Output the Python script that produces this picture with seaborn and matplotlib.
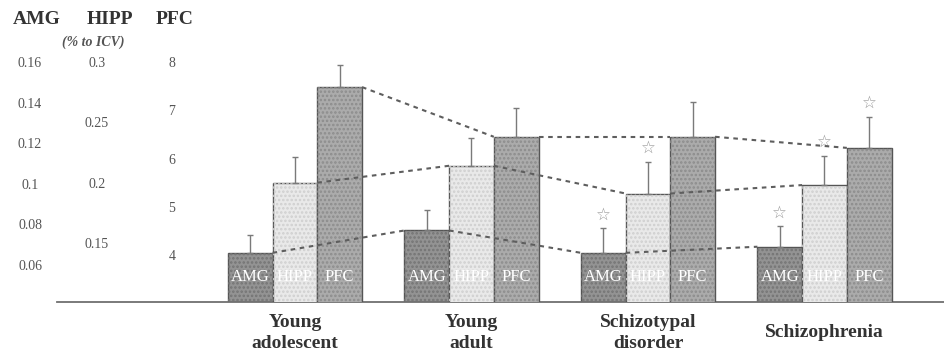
import matplotlib
matplotlib.use("Agg")
import matplotlib.pyplot as plt
import matplotlib.patches as mpatches
import seaborn as sns
import pandas as pd
import numpy as np

# ---------------- data ----------------
groups = ["Young\nadolescent", "Young\nadult", "Schizotypal\ndisorder", "Schizophrenia"]
regions = ["AMG", "HIPP", "PFC"]

amg_vals = [0.066, 0.077, 0.066, 0.069]
amg_sem = [0.009, 0.010, 0.012, 0.010]
hipp_vals = [0.200, 0.214, 0.191, 0.198]
hipp_sem = [0.021, 0.023, 0.026, 0.024]
pfc_vals = [7.48, 6.45, 6.45, 6.22]
pfc_sem = [0.46, 0.60, 0.72, 0.64]

amg_sig = [0, 0, 1, 1]
hipp_sig = [0, 0, 1, 1]
pfc_sig = [0, 0, 0, 1]

amg_ticks = [0.06, 0.08, 0.10, 0.12, 0.14, 0.16]
amg_ticklabels = ["0.06", "0.08", "0.1", "0.12", "0.14", "0.16"]
hipp_ticks = [0.15, 0.20, 0.25, 0.30]
hipp_ticklabels = ["0.15", "0.2", "0.25", "0.3"]
pfc_ticks = [4, 5, 6, 7, 8]
pfc_ticklabels = ["4", "5", "6", "7", "8"]

# ---------------- style ----------------
sns.set_theme(style="white")
plt.rcParams["font.family"] = ["Liberation Serif", "DejaVu Sans"]
plt.rcParams["hatch.linewidth"] = 1.2

colors = {"AMG": "#939393", "HIPP": "#e9e9e9", "PFC": "#ababab"}
speck = {"AMG": "#747474", "HIPP": "#cfcfcf", "PFC": "#8c8c8c"}
edge = "#555555"
line_col = "#5e5e5e"

W, H = 944, 351
fig = plt.figure(figsize=(W / 100, H / 100), dpi=100)
left_px, right_px, bottom_px, top_px = 57, 944, 302, 40
ax = fig.add_axes([left_px / W, 1 - bottom_px / H,
                   (right_px - left_px) / W, (bottom_px - top_px) / H])
ax2 = ax.twinx()
ax3 = ax.twinx()
axes = {"AMG": ax, "HIPP": ax2, "PFC": ax3}
vals = {"AMG": amg_vals, "HIPP": hipp_vals, "PFC": pfc_vals}
sems = {"AMG": amg_sem, "HIPP": hipp_sem, "PFC": pfc_sem}
sigs = {"AMG": amg_sig, "HIPP": hipp_sig, "PFC": pfc_sig}
ylims = {"AMG": (0.04177, 0.17084), "HIPP": (0.10110, 0.31823), "PFC": (3.0259, 8.456)}
ticks = {"AMG": (amg_ticks, amg_ticklabels), "HIPP": (hipp_ticks, hipp_ticklabels),
         "PFC": (pfc_ticks, pfc_ticklabels)}
pads = {"AMG": 19.4, "HIPP": -28.8, "PFC": -82.8}

bars = {}
for r in regions:
    a = axes[r]
    df = pd.DataFrame({"group": groups, "value": vals[r], "region": r})
    sns.barplot(data=df, x="group", y="value", hue="region", hue_order=regions,
                order=groups, palette=colors, width=0.76, dodge=True,
                errorbar=None, edgecolor=edge, linewidth=1.0, legend=False, ax=a)
    bars[r] = [p for p in a.patches if p.get_height() > 0]
    # stipple texture overlay
    for p in bars[r]:
        tex = mpatches.Rectangle((p.get_x(), p.get_y()), p.get_width(), p.get_height(),
                                 fill=False, hatch="....", edgecolor=speck[r],
                                 linewidth=0, zorder=p.get_zorder() + 0.1)
        a.add_patch(tex)
    a.set_ylim(*ylims[r])
    a.set_ylabel("")
    a.set_xlabel("")
    for s in a.spines.values():
        s.set_visible(False)

for r in regions:
    a = axes[r]
    a.yaxis.set_ticks_position("left")
    t, tl = ticks[r]
    a.set_yticks(t)
    a.set_yticklabels(tl)
    a.tick_params(axis="y", length=0, pad=pads[r], labelsize=10, labelcolor="#555555")
    for lab in a.get_yticklabels():
        lab.set_ha("center")

ax.spines["bottom"].set_visible(True)
ax.spines["bottom"].set_color("#707070")
ax.spines["bottom"].set_linewidth(1.3)
ax.set_xlim(-1.348, 3.677)
ax.set_xticks(range(len(groups)))
ax.set_xticklabels(groups, fontsize=14, fontweight="bold", color="#333333",
                   linespacing=1.3)
for lab in ax.get_xticklabels():
    lab.set_va("center")
ax.tick_params(axis="x", length=0, pad=22)
ax2.tick_params(axis="x", length=0, labelbottom=False)
ax3.tick_params(axis="x", length=0, labelbottom=False)

# error bars, stars, dashed connectors, labels (drawn on the top-most axes)
xtrans = ax3.get_xaxis_transform()
for r in regions:
    a = axes[r]
    ps = bars[r]
    xc = [p.get_x() + p.get_width() / 2 for p in ps]
    a.errorbar(xc, vals[r], yerr=[np.zeros(len(xc)), sems[r]], fmt="none",
               ecolor="#7a7a7a", elinewidth=1.0, capsize=2, capthick=1.0, zorder=5)
    for i, p in enumerate(ps):
        if sigs[r][i]:
            a.annotate("\u2606", (xc[i], vals[r][i] + sems[r][i]),
                       xytext=(0, 10), textcoords="offset points",
                       ha="center", va="center", fontsize=12, color="#999999",
                       family="DejaVu Sans", zorder=6)
        ax3.text(xc[i], 0.095, r, transform=xtrans, ha="center", va="center",
                 color="white", fontsize=12, zorder=7)
    for i in range(len(ps) - 1):
        x0 = ps[i].get_x() + ps[i].get_width()
        x1 = ps[i + 1].get_x()
        ax3.plot([x0, x1], [vals[r][i], vals[r][i + 1]], transform=a.transData,
                 color=line_col, linestyle=(0, (2.2, 2.2)), linewidth=1.5, zorder=8)

for r in regions:
    axes[r].set_ylim(*ylims[r])
ax.set_xlim(-1.348, 3.677)

# header labels
fig.text(37 / W, 1 - 20 / H, "AMG", ha="center", va="center", fontsize=14,
         fontweight="bold", color="#333333")
fig.text(110 / W, 1 - 20 / H, "HIPP", ha="center", va="center", fontsize=14,
         fontweight="bold", color="#333333")
fig.text(175 / W, 1 - 20 / H, "PFC", ha="center", va="center", fontsize=14,
         fontweight="bold", color="#333333")
fig.text(93 / W, 1 - 42 / H, "(% to ICV)", ha="center", va="center", fontsize=10,
         fontstyle="italic", fontweight="bold", color="#555555")

fig.savefig("out.png", dpi=100)
